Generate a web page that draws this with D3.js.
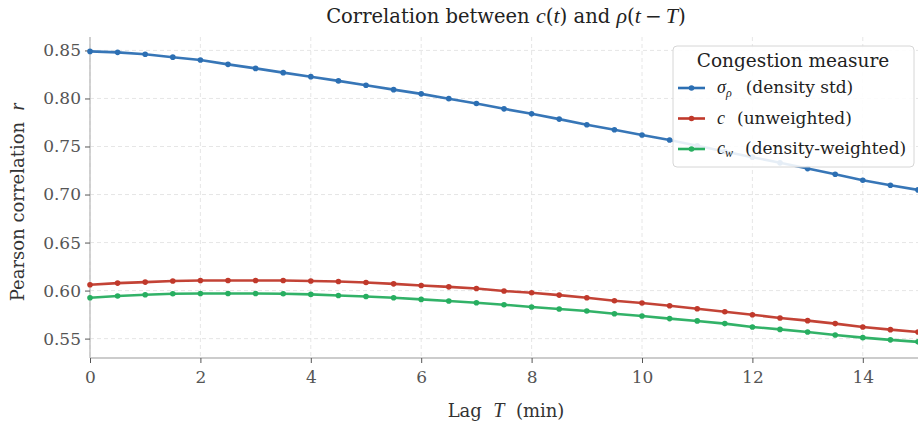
<!DOCTYPE html>
<html>
<head>
<meta charset="utf-8">
<script src="https://cdn.jsdelivr.net/npm/d3@7"></script>
<style>
  html, body { margin: 0; padding: 0; background: #fff; }
  svg { display: block; }
  text { font-family: "DejaVu Serif", serif; white-space: pre; }
  .m { font-family: "Liberation Serif", "DejaVu Serif", serif; font-style: italic; }
</style>
</head>
<body>
<svg id="chart" width="918" height="428"></svg>
<script>
const lags = [0,0.5,1,1.5,2,2.5,3,3.5,4,4.5,5,5.5,6,6.5,7,7.5,8,8.5,9,9.5,10,10.5,11,11.5,12,12.5,13,13.5,14,14.5,15];
const sigmaRho = [0.849,0.848,0.846,0.843,0.840,0.8355,0.8313,0.8269,0.8227,0.8183,0.8137,0.8092,0.8048,0.7998,0.7947,0.7892,0.7840,0.7785,0.7726,0.7675,0.7619,0.7567,0.7508,0.7448,0.7389,0.7330,0.7270,0.7211,0.7149,0.7097,0.7048];
const cUnweighted = [0.6060,0.6078,0.6088,0.6099,0.6105,0.6105,0.6105,0.6105,0.6099,0.6094,0.6084,0.6070,0.6053,0.6039,0.6022,0.5995,0.5977,0.5953,0.5925,0.5894,0.5870,0.5842,0.5811,0.5780,0.5749,0.5715,0.5687,0.5656,0.5621,0.5593,0.5569];
const cWeighted = [0.5925,0.5943,0.5957,0.5967,0.5970,0.5970,0.5970,0.5967,0.5960,0.5949,0.5939,0.5925,0.5908,0.5891,0.5874,0.5853,0.5829,0.5808,0.5787,0.5759,0.5735,0.5708,0.5684,0.5656,0.5621,0.5596,0.5569,0.5538,0.5510,0.5487,0.5466];
const xTicks = [0,2,4,6,8,10,12,14];
const yTicks = [0.55,0.60,0.65,0.70,0.75,0.80,0.85];
const seriesNames = ["sigma","c","cw"];
const seriesColors = ["#2c6fb3","#c0392b","#27ae60"];

const svg = d3.select("#chart");
const L = 90, R = 918, T = 37, B = 358;
const x = d3.scaleLinear().domain([0, 15]).range([L, R]);
const y = d3.scaleLinear().domain([0.5298, 0.8640]).range([B, T]);

// grid
const grid = svg.append("g");
grid.selectAll(".gx").data(xTicks).join("line")
  .attr("x1", d => x(d)).attr("x2", d => x(d)).attr("y1", T).attr("y2", B)
  .attr("stroke", "#e3e3e3").attr("stroke-width", 0.9).attr("stroke-dasharray", "4,3");
grid.selectAll(".gy").data(yTicks).join("line")
  .attr("x1", L).attr("x2", R).attr("y1", d => y(d)).attr("y2", d => y(d))
  .attr("stroke", "#e3e3e3").attr("stroke-width", 0.9).attr("stroke-dasharray", "4,3");

// axes
const xAxis = svg.append("g").attr("transform", `translate(0,${B})`)
  .call(d3.axisBottom(x).tickValues(xTicks).tickFormat(d3.format("d")).tickSize(5).tickPadding(8));
const yAxis = svg.append("g").attr("transform", `translate(${L},0)`)
  .call(d3.axisLeft(y).tickValues(yTicks).tickFormat(d3.format(".2f")).tickSize(5).tickPadding(4));
[xAxis, yAxis].forEach(a => {
  a.select(".domain").attr("stroke", "#bbbbbb").attr("stroke-width", 1.3);
  a.selectAll(".tick line").attr("stroke", "#555").attr("stroke-width", 1);
  a.selectAll(".tick text").attr("fill", "#555").style("font-family", "DejaVu Serif").style("font-size", "17px");
});
yAxis.select(".domain").attr("d", `M0,${T}V${B}`);
xAxis.select(".domain").attr("d", `M${L},0H${R}`);

// series
const data = [sigmaRho, cUnweighted, cWeighted];
const line = d3.line().x((d, i) => x(lags[i])).y(d => y(d));
data.forEach((vals, k) => {
  const g = svg.append("g");
  g.append("path").datum(vals).attr("d", line)
    .attr("fill", "none").attr("stroke", seriesColors[k]).attr("stroke-width", 2.6)
    .attr("stroke-opacity", 0.95).attr("stroke-linejoin", "round");
  g.selectAll("circle").data(vals).join("circle")
    .attr("cx", (d, i) => x(lags[i])).attr("cy", d => y(d)).attr("r", 2.8)
    .attr("fill", seriesColors[k]);
});

// title
const title = svg.append("text").attr("x", 506).attr("y", 23).attr("text-anchor", "middle")
  .style("font-size", "19.5px").attr("fill", "#222");
title.append("tspan").text("Correlation between ");
title.append("tspan").attr("class", "m").style("font-size", "22px").text("c");
title.append("tspan").style("font-size", "20px").text("(");
title.append("tspan").attr("class", "m").style("font-size", "22px").text("t");
title.append("tspan").style("font-size", "20px").text(")");
title.append("tspan").text(" and ");
title.append("tspan").attr("class", "m").style("font-size", "22px").text("ρ");
title.append("tspan").style("font-size", "20px").text("(");
title.append("tspan").attr("class", "m").style("font-size", "22px").text("t");
title.append("tspan").style("font-size", "20px").text("\u2009−\u2009");
title.append("tspan").attr("class", "m").style("font-size", "22px").text("T");
title.append("tspan").style("font-size", "20px").text(")");

// axis labels
const xl = svg.append("text").attr("x", 506).attr("y", 417).attr("text-anchor", "middle")
  .style("font-size", "18px").attr("fill", "#333");
xl.append("tspan").text("Lag\u00A0\u00A0");
xl.append("tspan").attr("class", "m").style("font-size", "20px").text("T");
xl.append("tspan").text("\u00A0\u00A0(min)");

const yl = svg.append("text").attr("transform", "translate(24,202) rotate(-90)").attr("text-anchor", "middle")
  .style("font-size", "18px").attr("fill", "#333");
yl.append("tspan").text("Pearson correlation\u00A0\u00A0");
yl.append("tspan").attr("class", "m").style("font-size", "20px").text("r");

// legend
const lg = svg.append("g");
lg.append("rect").attr("x", 673).attr("y", 46).attr("width", 241).attr("height", 121).attr("rx", 4)
  .attr("fill", "#fff").attr("fill-opacity", 0.88).attr("stroke", "#d6d6d6").attr("stroke-width", 1);
lg.append("text").attr("x", 793).attr("y", 67).attr("text-anchor", "middle")
  .style("font-size", "18.5px").attr("fill", "#222").text("Congestion measure");
const rowsY = [88, 118.5, 149];
seriesNames.forEach((name, k) => {
  const ry = rowsY[k];
  lg.append("line").attr("x1", 678).attr("x2", 705).attr("y1", ry).attr("y2", ry)
    .attr("stroke", seriesColors[k]).attr("stroke-width", 2.6);
  lg.append("circle").attr("cx", 691.5).attr("cy", ry).attr("r", 2.8).attr("fill", seriesColors[k]);
  const t = lg.append("text").attr("x", 717).attr("y", ry + 5).style("font-size", "17px").attr("fill", "#222");
  if (name === "sigma") {
    t.append("tspan").attr("class", "m").style("font-size", "18px").text("σ");
    t.append("tspan").attr("class", "m").attr("dy", 4).style("font-size", "12px").text("ρ");
    t.append("tspan").attr("dy", -4).attr("dx", 14).text("(density std)");
  } else if (name === "c") {
    t.append("tspan").attr("class", "m").style("font-size", "18px").text("c");
    t.append("tspan").attr("dx", 12).text("(unweighted)");
  } else {
    t.append("tspan").attr("class", "m").style("font-size", "18px").text("c");
    t.append("tspan").attr("class", "m").attr("dy", 3).style("font-size", "12px").text("w");
    t.append("tspan").attr("dy", -3).attr("dx", 12).text("(density-weighted)");
  }
});
</script>
</body>
</html>
